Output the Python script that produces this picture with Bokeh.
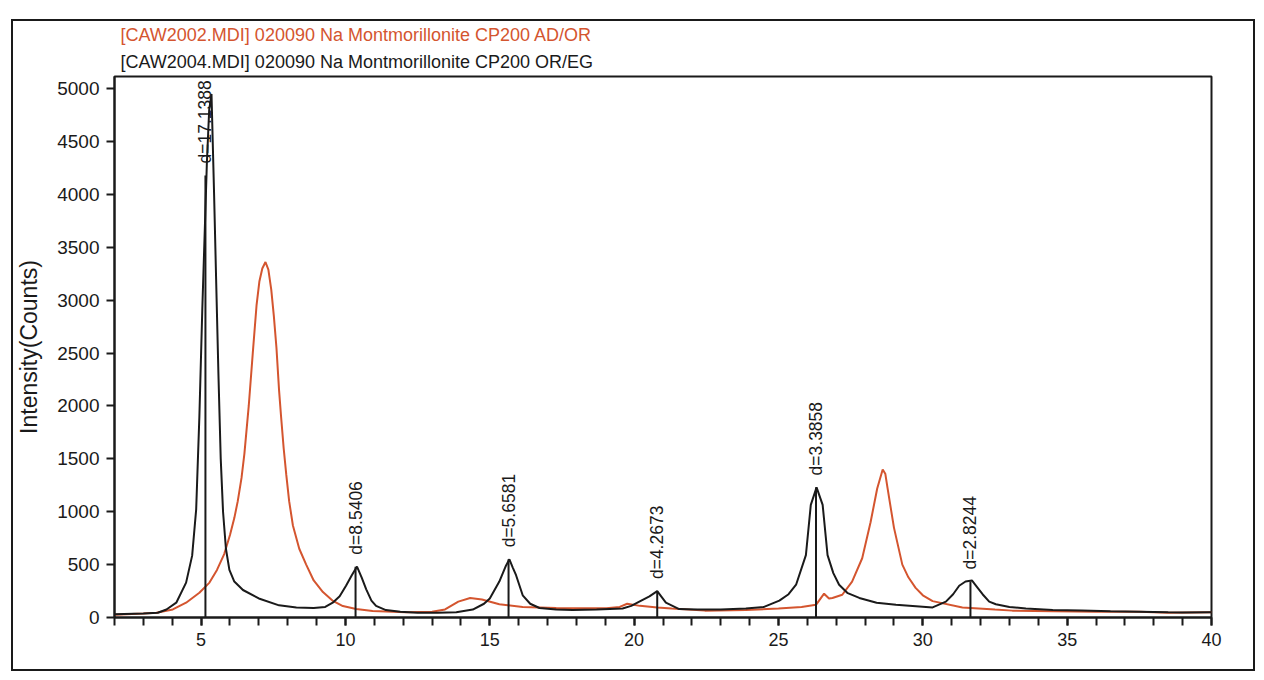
from bokeh.plotting import figure
from bokeh.models import FixedTicker, ColumnDataSource, LabelSet, Title, Range1d
from bokeh.core.properties import value
from bokeh.embed import file_html
from bokeh.resources import INLINE

# ---- data ----
# OR/EG (black) scan
two_theta_eg = [2.0, 3.0, 3.5, 3.8, 4.14, 4.48, 4.69, 4.83, 4.94, 5.04, 5.12, 5.2, 5.28, 5.36,
                5.45, 5.52, 5.6, 5.68, 5.76, 5.86, 5.98, 6.15, 6.45, 7.0, 7.7, 8.3, 8.9, 9.3,
                9.56, 9.8, 10.02, 10.22, 10.4, 10.56, 10.72, 10.9, 11.06, 11.4, 11.9, 12.5,
                13.2, 13.84, 14.41, 14.8, 15.0, 15.33, 15.56, 15.68, 15.8, 15.91, 16.14, 16.4,
                16.72, 17.3, 17.87, 18.7, 19.6, 19.9, 20.18, 20.53, 20.8, 21.1, 21.56, 22.2,
                23.0, 23.87, 24.5, 25.03, 25.35, 25.61, 25.95, 26.12, 26.32, 26.53, 26.7,
                26.9, 27.1, 27.4, 27.8, 28.4, 29.07, 30.34, 30.8, 31.05, 31.26, 31.48, 31.7,
                31.9, 32.07, 32.3, 32.53, 33.0, 33.57, 34.5, 35.5, 36.5, 37.5, 38.5, 39.0, 40.0]
counts_eg = [30, 38, 45, 76, 140, 330, 585, 1025, 1900, 2900, 3600, 4300, 4800, 4950,
             4000, 3200, 2300, 1500, 1000, 650, 450, 340, 260, 180, 115, 95, 90, 100,
             140, 200, 300, 400, 481, 380, 266, 160, 110, 70, 55, 45,
             45, 50, 75, 130, 180, 340, 490, 550, 470, 400, 210, 130,
             90, 75, 72, 75, 85, 110, 150, 200, 250, 140, 80, 75,
             75, 85, 100, 160, 220, 310, 590, 1065, 1230, 1065, 590,
             420, 310, 230, 185, 140, 120, 95, 150, 220, 300, 340, 350,
             280, 220, 150, 125, 100, 85, 72, 66, 60, 55, 50, 48, 50]

# AD/OR (orange) scan
two_theta_ad = [2.0, 3.0, 3.45, 4.02, 4.48, 4.94, 5.29, 5.55, 5.8, 6.0, 6.15, 6.27, 6.4, 6.5,
                6.65, 6.79, 6.92, 7.02, 7.12, 7.23, 7.33, 7.43, 7.52, 7.61, 7.7, 7.77, 7.86,
                7.95, 8.05, 8.18, 8.4, 8.64, 8.9, 9.22, 9.55, 9.91, 10.37, 10.94, 12.1, 13.0,
                13.45, 13.91, 14.32, 14.73, 15.33, 16.14, 17.3, 18.2, 19.04, 19.5, 19.76,
                20.2, 20.8, 21.3, 22.45, 23.87, 25.0, 25.8, 26.3, 26.58, 26.75, 26.87, 27.21,
                27.55, 27.9, 28.19, 28.42, 28.61, 28.7, 28.78, 29.0, 29.29, 29.5, 29.75, 30.0,
                30.34, 31.37, 32.5, 33.1, 34.5, 36.0, 37.5, 38.5, 40.0]
counts_ad = [25, 38, 45, 76, 140, 234, 330, 450, 600, 780, 940, 1100, 1320, 1550,
             2000, 2500, 2950, 3180, 3300, 3361, 3290, 3100, 2850, 2550, 2150, 1900, 1600,
             1350, 1100, 870, 650, 500, 350, 240, 160, 108, 80, 61, 50, 55,
             76, 150, 185, 170, 125, 100, 90, 88, 88, 100, 130,
             110, 95, 85, 65, 70, 85, 100, 120, 225, 180, 185, 215,
             340, 560, 900, 1220, 1400, 1360, 1220, 850, 500, 380, 280, 210,
             155, 95, 75, 65, 60, 55, 55, 45, 50]

# peak markers
stick_2theta = [5.15, 10.35, 15.65, 20.80, 26.30, 31.65]
stick_counts = [4180, 481, 550, 250, 1230, 340]
stick_labels = ["d=17.1388", "d=8.5406", "d=5.6581", "d=4.2673", "d=3.3858", "d=2.8244"]

legend_ad = "[CAW2002.MDI] 020090 Na Montmorillonite CP200 AD/OR"
legend_eg = "[CAW2004.MDI] 020090 Na Montmorillonite CP200 OR/EG"

x_major_ticks = [5, 10, 15, 20, 25, 30, 35, 40]
x_minor_ticks = list(range(2, 41))
y_ticks = [0, 500, 1000, 1500, 2000, 2500, 3000, 3500, 4000, 4500, 5000]

ORANGE = "#d4552f"
BLACK = "#1a1a1a"
FONT = "Liberation Sans"

p = figure(width=1244, height=652,
           x_range=Range1d(2, 40), y_range=Range1d(0, 5115),
           output_backend="svg", toolbar_location=None,
           min_border_left=93, min_border_right=46, min_border_top=55, min_border_bottom=56,
           background_fill_color="white", border_fill_color="white",
           styles={"border": "2px solid #1a1a1a", "margin-left": "11px", "margin-top": "19px"})

p.xgrid.visible = False
p.ygrid.visible = False
p.outline_line_color = BLACK
p.outline_line_width = 2

# legend-like text lines above the frame
p.add_layout(Title(text=legend_eg, text_color=BLACK, text_font=FONT, text_font_size="18px",
                   text_font_style="normal", align="left", offset=6, standoff=10), "above")
p.add_layout(Title(text=legend_ad, text_color=ORANGE, text_font=FONT, text_font_size="18px",
                   text_font_style="normal", align="left", offset=6, standoff=0), "above")

# curves
p.line(two_theta_ad, counts_ad, line_color=ORANGE, line_width=2)
p.line(two_theta_eg, counts_eg, line_color=BLACK, line_width=2)

# stick markers
src = ColumnDataSource(dict(x=stick_2theta, y=stick_counts, label=stick_labels,
                            y0=[0] * len(stick_2theta)))
p.segment(x0="x", y0="y0", x1="x", y1="y", source=src, line_color=BLACK, line_width=2)
p.add_layout(LabelSet(x="x", y="y", text="label", source=src, angle=90, angle_units="deg",
                      text_align="left", text_baseline="middle", y_offset=12,
                      text_font=value(FONT), text_font_size="17.5px", text_color=BLACK))

# axes
xa = p.xaxis[0]
xa.ticker = FixedTicker(ticks=x_major_ticks, minor_ticks=x_minor_ticks)
xa.major_tick_out = 8
xa.major_tick_in = 0
xa.minor_tick_out = 8
xa.minor_tick_in = 0
xa.major_label_text_font = FONT
xa.major_label_text_font_size = "18px"
xa.major_label_text_color = BLACK
xa.major_label_standoff = 7
xa.axis_line_width = 2
xa.axis_line_color = BLACK
xa.major_tick_line_width = 2
xa.minor_tick_line_width = 2
xa.major_tick_line_color = BLACK
xa.minor_tick_line_color = BLACK

ya = p.yaxis[0]
ya.ticker = FixedTicker(ticks=y_ticks, minor_ticks=[])
ya.major_tick_out = 8
ya.major_tick_in = 0
ya.minor_tick_out = 0
ya.major_label_text_font = FONT
ya.major_label_text_font_size = "19px"
ya.major_label_text_color = BLACK
ya.major_label_standoff = 7
ya.axis_line_width = 2
ya.axis_line_color = BLACK
ya.major_tick_line_width = 2
ya.major_tick_line_color = BLACK
ya.axis_label = "Intensity(Counts)"
ya.axis_label_text_font = FONT
ya.axis_label_text_font_size = "23px"
ya.axis_label_text_font_style = "normal"
ya.axis_label_text_color = BLACK
ya.axis_label_standoff = 12

open("out.html", "w").write(file_html(p, INLINE))
